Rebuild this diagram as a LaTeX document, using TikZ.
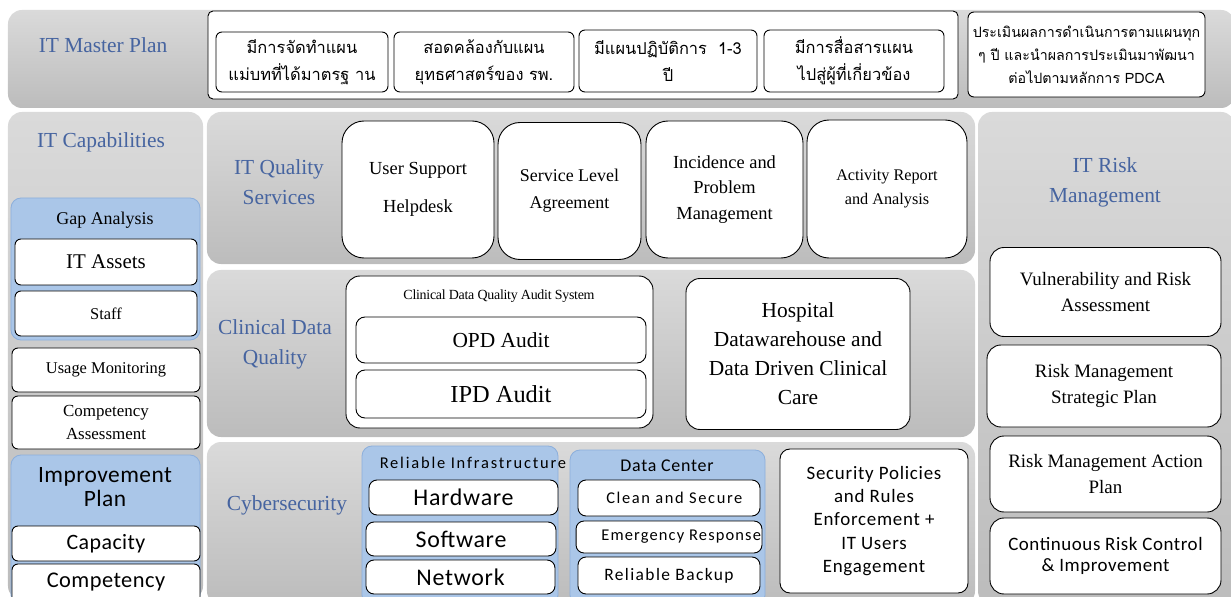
\documentclass[tikz,border=0pt]{standalone}
\usepackage{fontspec}
\setmainfont{Liberation Serif}
\newfontfamily\calib{Carlito}
\newfontfamily\thaifont[Script=Thai]{Loma}
\newcommand\fsz[2]{\fontsize{#1}{#2}\selectfont}
\definecolor{bandtop}{RGB}{218,218,218}
\definecolor{bandbot}{RGB}{188,188,188}
\definecolor{titleblue}{RGB}{70,100,160}
\definecolor{bluefill}{RGB}{170,198,232}
\definecolor{blueedge}{RGB}{140,175,220}
\tikzset{
  band/.style={rounded corners=14bp, top color=bandtop, bottom color=bandbot, draw=none, inner sep=0pt},
  wbox/.style={draw=black, line width=0.9bp, fill=white, rounded corners=6bp, align=center, inner sep=1bp},
  tallbox/.style={wbox, rounded corners=22bp},
  bbox/.style={draw=blueedge, fill=bluefill, rounded corners=10bp, line width=0.8bp, inner sep=0pt},
  ttl/.style={text=titleblue, align=center, font=\fsz{21.5}{30}},
  thaitxt/.style={font=\thaifont\fsz{16.5}{27}},
}
\begin{document}
\begin{tikzpicture}[x=1bp,y=-1bp]
\useasboundingbox (0,0) rectangle (1231,597);
\clip (0,0) rectangle (1231,597);
% ---------- IT Master Plan ----------
\node[band, minimum width=1227bp, minimum height=98bp] (mpband) at (621.5,59) {};
\node[ttl] (mptitle) at (103,45) {IT Master Plan};
\node[wbox, rounded corners=5bp, minimum width=750bp, minimum height=88bp] (mpin) at (583,55) {};
\node[wbox, thaitxt, minimum width=172bp, minimum height=60bp] (m1) at (302,62) {มีการจัดทำแผน\\แม่บทที่ได้มาตรฐ าน};
\node[wbox, thaitxt, minimum width=180bp, minimum height=60bp] (m2) at (484,62) {สอดคล้องกับแผน\\ยุทธศาสตร์ของ รพ.};
\node[wbox, thaitxt, minimum width=178bp, minimum height=62bp] (m3) at (668,61) {มีแผนปฏิบัติการ\ \ 1-3\\ปี};
\node[wbox, thaitxt, minimum width=180bp, minimum height=62bp] (m4) at (854,61) {มีการสื่อสารแผน\\ไปสู่ผู้ที่เกี่ยวข้อง};
\node[wbox, font=\thaifont\fsz{14.3}{23}, minimum width=237bp, minimum height=85bp] (m5) at (1086.5,54.5) {ประเมินผลการดำเนินการตามแผนทุก\\ๆ ปี และนำผลการประเมินมาพัฒนา\\ต่อไปตามหลักการ PDCA};
% ---------- IT Capabilities ----------
\node[band, minimum width=195bp, minimum height=488bp] (capband) at (105.5,356) {};
\node[ttl] (captitle) at (101,142) {IT Capabilities};
\node[bbox, minimum width=189bp, minimum height=142bp] (gap) at (105.5,269) {};
\node[font=\fsz{18}{20}] (gaptitle) at (105,220) {Gap Analysis};
\node[wbox, font=\fsz{21}{22}, minimum width=182bp, minimum height=46bp] (assets) at (106,262) {IT Assets};
\node[wbox, font=\fsz{16.5}{18}, minimum width=182bp, minimum height=45bp] (staff) at (106,313.5) {Staff};
\node[wbox, font=\fsz{16.5}{18}, minimum width=188bp, minimum height=44bp] (usage) at (106,370) {Usage Monitoring};
\node[wbox, font=\fsz{17}{23}, minimum width=188bp, minimum height=53bp] (compass) at (106,422.5) {Competency\\Assessment};
\node[bbox, minimum width=189bp, minimum height=150bp] (impr) at (105.5,530) {};
\node[font=\calib\fsz{23.5}{24}\addfontfeatures{LetterSpace=2}, align=center] (imprtitle) at (105,487) {Improvement\\Plan};
\node[wbox, font=\calib\fsz{22}{24}\addfontfeatures{LetterSpace=2}, minimum width=188bp, minimum height=35bp] (capac) at (106,543.5) {Capacity};
\node[wbox, font=\calib\fsz{22.5}{24}\addfontfeatures{LetterSpace=2}, minimum width=188bp, minimum height=41bp] (compet) at (106,584.5) {\raisebox{9bp}{Competency}};
% ---------- IT Quality Services ----------
\node[band, minimum width=768bp, minimum height=152bp] (qband) at (591,188) {};
\node[ttl] (qtitle) at (279,182) {IT Quality\\Services};
\node[tallbox, font=\fsz{18.5}{38}, minimum width=152bp, minimum height=137bp] (q1) at (418,189.5) {User Support\\Helpdesk};
\node[tallbox, font=\fsz{18}{27}, minimum width=143bp, minimum height=137bp] (q2) at (569.5,191) {Service Level\\Agreement};
\node[tallbox, font=\fsz{18.5}{26}, minimum width=157bp, minimum height=137bp] (q3) at (724.5,189.5) {Incidence and\\Problem\\Management};
\node[tallbox, font=\fsz{16.3}{24}, minimum width=160bp, minimum height=138bp] (q4) at (887,189) {Activity Report\\and Analysis};
% ---------- Clinical Data Quality ----------
\node[band, minimum width=768bp, minimum height=167bp] (cband) at (591,353.5) {};
\node[ttl] (ctitle) at (275,344) {Clinical Data\\Quality};
\node[wbox, rounded corners=14bp, minimum width=307bp, minimum height=152bp] (audit) at (499.5,352) {};
\node[font=\fsz{14}{14}\addfontfeatures{LetterSpace=-2}] (audittitle) at (499,296) {Clinical Data Quality Audit System};
\node[wbox, rounded corners=9bp, font=\fsz{21.5}{22}, minimum width=290bp, minimum height=46bp] (opd) at (501,340) {OPD Audit};
\node[wbox, rounded corners=9bp, font=\fsz{24.5}{24}, minimum width=290bp, minimum height=48bp] (ipd) at (501,394) {IPD Audit};
\node[wbox, rounded corners=14bp, font=\fsz{21.5}{29}, minimum width=224bp, minimum height=151bp] (hosp) at (798,354) {Hospital\\Datawarehouse and\\Data Driven Clinical\\Care};
% ---------- Cybersecurity ----------
\node[band, minimum width=768bp, minimum height=163bp] (cyband) at (591,523.5) {};
\node[ttl] (cytitle) at (287,505) {Cybersecurity};
\node[bbox, minimum width=196bp, minimum height=159bp] (ri) at (460,525.5) {};
\node[font=\calib\fsz{16.5}{20}\addfontfeatures{LetterSpace=11}] (rititle) at (473,463) {Reliable Infrastructure};
\node[wbox, rounded corners=8bp, font=\calib\fsz{24}{24}\addfontfeatures{LetterSpace=3}, minimum width=189bp, minimum height=35bp] (hw) at (463.5,497.5) {Hardware};
\node[wbox, rounded corners=8bp, font=\calib\fsz{24}{24}\addfontfeatures{LetterSpace=3}, minimum width=190bp, minimum height=34bp] (sw) at (461,539) {Software};
\node[wbox, rounded corners=8bp, font=\calib\fsz{24}{24}\addfontfeatures{LetterSpace=3}, minimum width=189bp, minimum height=34bp] (nw) at (460.5,577) {Network};
\node[bbox, minimum width=195bp, minimum height=155bp] (dc) at (667.5,527.5) {};
\node[font=\calib\fsz{18}{20}\addfontfeatures{LetterSpace=4}] (dctitle) at (667,466) {Data Center};
\node[wbox, rounded corners=8bp, font=\calib\fsz{16.5}{20}\addfontfeatures{LetterSpace=10}, minimum width=182bp, minimum height=36bp] (clean) at (669,498) {\ \ Clean and Secure};
\node[wbox, rounded corners=8bp, font=\calib\fsz{16.5}{20}\addfontfeatures{LetterSpace=7}, minimum width=182bp, minimum height=32bp] (emerg) at (669,537) {\ \ \ \ \ Emergency Response};
\node[wbox, rounded corners=8bp, font=\calib\fsz{17.5}{20}\addfontfeatures{LetterSpace=8}, minimum width=182bp, minimum height=37bp] (backup) at (669,575.5) {Reliable Backup};
\node[wbox, rounded corners=10bp, font=\calib\fsz{19}{23.3}\addfontfeatures{LetterSpace=4}, minimum width=188bp, minimum height=144bp] (secpol) at (874,521) {Security Policies\\and Rules\\Enforcement +\\IT Users\\Engagement};
% ---------- IT Risk Management ----------
\node[band, minimum width=257bp, minimum height=493bp] (rband) at (1106.5,358.5) {};
\node[ttl] (rtitle) at (1105,182) {IT Risk\\Management};
\node[wbox, rounded corners=14bp, font=\fsz{19}{26}, minimum width=231bp, minimum height=89bp] (r1) at (1105.5,292) {Vulnerability and Risk\\Assessment};
\node[wbox, rounded corners=14bp, font=\fsz{19}{26}, minimum width=234bp, minimum height=82bp] (r2) at (1104,386) {Risk Management\\Strategic Plan};
\node[wbox, rounded corners=14bp, font=\fsz{19}{26}, minimum width=231bp, minimum height=76bp] (r3) at (1105.5,474) {Risk Management Action\\Plan};
\node[wbox, rounded corners=14bp, font=\calib\fsz{19}{21}\addfontfeatures{LetterSpace=3}, minimum width=231bp, minimum height=76bp] (r4) at (1105.5,556) {Continuous Risk Control\\\& Improvement};
\end{tikzpicture}
\end{document}
